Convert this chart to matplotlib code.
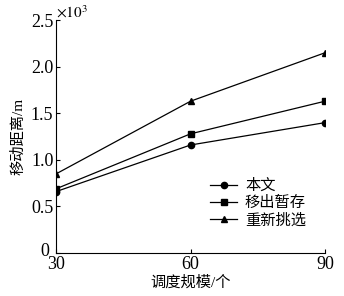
import matplotlib
matplotlib.use("Agg")
from matplotlib import pyplot as plt
from matplotlib import transforms

scales = [30, 60, 90]
benwen = [0.66, 1.16, 1.40]
yichu = [0.69, 1.28, 1.63]
chongxin = [0.85, 1.63, 2.15]
labels = ["本文", "移出暂存", "重新挑选"]

plt.rcParams['font.family'] = ['Liberation Serif', 'Noto Sans CJK SC']
plt.rcParams['font.size'] = 11
plt.rcParams['mathtext.fontset'] = 'stix'

fig = plt.figure(figsize=(3.44, 2.96), dpi=100)
ax = fig.add_axes([0.163, 0.145, 0.782, 0.787])

ax.plot(scales, benwen, color='black', lw=0.9, marker='o', ms=4.5, label=labels[0])
ax.plot(scales, yichu, color='black', lw=0.9, marker='s', ms=4.5, label=labels[1])
ax.plot(scales, chongxin, color='black', lw=0.9, marker='^', ms=4.5, label=labels[2])

ax.set_xlim(30, 90)
ax.set_ylim(0, 2.5)
ax.set_xticks(scales)
ax.set_yticks([0, 0.5, 1.0, 1.5, 2.0, 2.5])
ax.set_yticklabels(["0", "0.5", "1.0", "1.5", "2.0", "2.5"])
ax.spines['top'].set_visible(False)
ax.spines['right'].set_visible(False)
ax.tick_params(direction='in', length=3, width=0.8, pad=2, labelsize=13)
# nudge the "0" up and left so it clears the "30"
lab0 = ax.get_yticklabels()[0]
lab0.set_transform(lab0.get_transform() + transforms.ScaledTranslation(-4 / 100, 4 / 100, fig.dpi_scale_trans))
ax.set_xlabel("调度规模/个", labelpad=2)
ax.set_ylabel("移动距离/m", labelpad=4)
ax.text(0.0, 1.0, r"$\times10^3$", transform=ax.transAxes, fontsize=11, va='bottom', ha='left')

ax.legend(loc='lower right', bbox_to_anchor=(0.98, 0.05), frameon=False,
          handlelength=1.8, labelspacing=0.2, handletextpad=0.5, fontsize=11)

fig.savefig("out.png", dpi=100)
